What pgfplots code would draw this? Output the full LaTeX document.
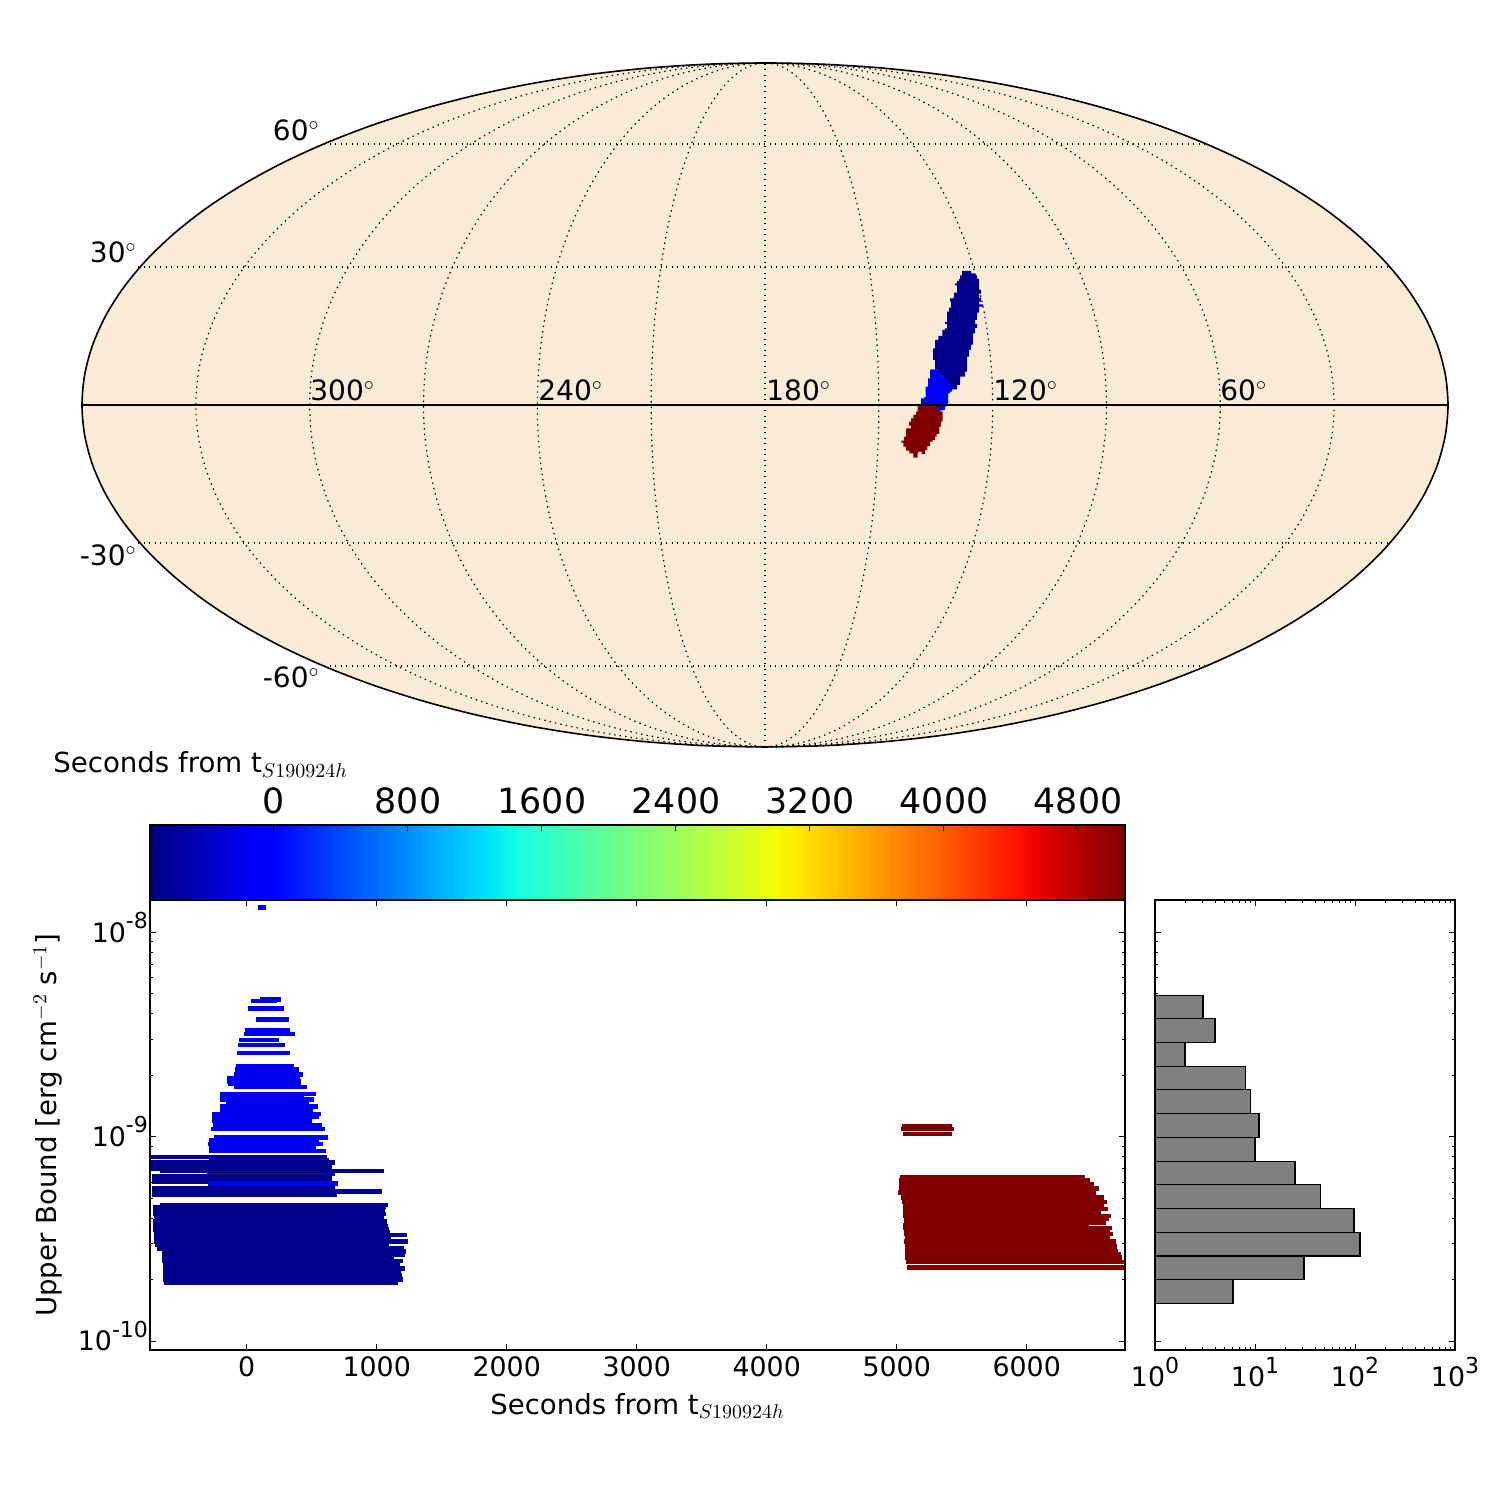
\documentclass[border=0pt]{standalone}
\usepackage{pgfplots}
\pgfplotsset{compat=1.18}
\usepackage{pgfplotstable}
\usepackage{fontspec}
\setmainfont{DejaVu Sans}
\definecolor{mapbg}{HTML}{FAEBD7}
\definecolor{dkblue}{HTML}{00008B}
\definecolor{mdblue}{HTML}{0000F0}
\definecolor{skyblue}{HTML}{0000F8}
\definecolor{dkred}{HTML}{800000}
\newcommand\lblfont{\fontsize{14}{17}\selectfont}
\newcommand\axlblfont{\fontsize{13.8}{17}\selectfont}
\newcommand\tickfont{\fontsize{13.4}{16}\selectfont}
\newcommand\cbfont{\fontsize{17.4}{20}\selectfont}
\newcommand\tp[1]{10\raisebox{.5em}{\fontsize{11}{11}\selectfont #1}}
\newcommand\secs{Seconds from t$_{S190924h}$}
\pgfdeclarehorizontalshading{mpljet}{100bp}{rgb(0bp)=(0,0,.5); rgb(25bp)=(0,0,.5); rgb(30.5bp)=(0,0,1); rgb(31.25bp)=(0,0,1); rgb(42bp)=(0,.86,1); rgb(42.5bp)=(0,.9,.968); rgb(43.75bp)=(.081,1,.887); rgb(57bp)=(.935,1,.032); rgb(57.5bp)=(.968,.963,0); rgb(58bp)=(1,.926,0); rgb(69.5bp)=(1,.074,0); rgb(70.5bp)=(.909,0,0); rgb(75bp)=(.5,0,0); rgb(100bp)=(.5,0,0)}

% unit ellipse for the Mollweide frame and meridians
\pgfplotstableread{
c s
0 -1
.0872 -.9962
.1736 -.9848
.2588 -.9659
.3420 -.9397
.4226 -.9063
.5000 -.8660
.5736 -.8192
.6428 -.7660
.7071 -.7071
.7660 -.6428
.8192 -.5736
.8660 -.5000
.9063 -.4226
.9397 -.3420
.9659 -.2588
.9848 -.1736
.9962 -.0872
1 0
.9962 .0872
.9848 .1736
.9659 .2588
.9397 .3420
.9063 .4226
.8660 .5000
.8192 .5736
.7660 .6428
.7071 .7071
.6428 .7660
.5736 .8192
.5000 .8660
.4226 .9063
.3420 .9397
.2588 .9659
.1736 .9848
.0872 .9962
0 1
-.0872 .9962
-.1736 .9848
-.2588 .9659
-.3420 .9397
-.4226 .9063
-.5000 .8660
-.5736 .8192
-.6428 .7660
-.7071 .7071
-.7660 .6428
-.8192 .5736
-.8660 .5000
-.9063 .4226
-.9397 .3420
-.9659 .2588
-.9848 .1736
-.9962 .0872
-1 0
-.9962 -.0872
-.9848 -.1736
-.9659 -.2588
-.9397 -.3420
-.9063 -.4226
-.8660 -.5000
-.8192 -.5736
-.7660 -.6428
-.7071 -.7071
-.6428 -.7660
-.5736 -.8192
-.5000 -.8660
-.4226 -.9063
-.3420 -.9397
-.2588 -.9659
-.1736 -.9848
-.0872 -.9962
0 -1
}\ell

% sky regions
\pgfplotstableread{
x y
246 33
273 33
273 40
285 40
285 46
291 46
291 57
297 57
297 90
303 90
303 101
297 101
297 113
303 113
303 125
297 125
297 133
309 133
309 140
297 140
297 158
291 158
291 180
285 180
285 192
291 192
291 204
285 204
285 220
279 220
279 254
273 254
273 270
267 270
267 290
261 290
261 335
255 335
255 350
240 350
240 375
231 375
231 388
219 388
213 380
207 372
200 365
192 355
183 345
175 335
172 328
165 320
165 300
159 300
159 287
159 272
153 272
159 265
165 255
165 240
171 240
175 228
187 225
187 210
195 205
201 192
195 186
201 180
201 155
207 150
207 143
213 125
210 115
219 113
222 98
231 85
231 76
225 70
231 63
237 57
240 46
246 40
}\skydark
\pgfplotstableread{
x y
155 328
172 328
175 335
183 345
192 355
200 365
207 372
213 380
222 385
216 395
210 400
204 408
204 425
210 425
204 432
198 440
195 450
187 452
178 460
172 450
160 437
150 432
123 432
123 415
132 412
137 395
137 380
144 375
144 355
150 350
150 330
}\skymid
\pgfplotstableread{
x y
123 432
150 432
160 437
172 450
180 455
188 455
188 485
183 500
178 510
178 522
170 530
165 540
158 545
150 558
142 570
135 582
125 575
115 580
113 593
102 593
100 580
88 572
78 560
70 548
64 542
72 530
78 518
78 505
93 497
87 485
93 475
100 465
108 455
113 440
}\skyred

% upper-bound rows: start, stop (s), flux
\pgfplotstableread{
t1 t2 f
-290 633 7.71e-10
-305 679 6.56e-10
}\blueunder
\pgfplotstableread{
t1 t2 f
-736 618 7.95e-10
-736 679 7.46e-10
-736 653 7.26e-10
-736 653 7.05e-10
-736 641 6.94e-10
-667 1056 6.79e-10
-728 653 6.37e-10
-728 653 6.18e-10
-728 653 6.02e-10
-728 679 5.58e-10
-728 1041 5.38e-10
-728 695 5.18e-10
-667 1087 4.64e-10
-721 1075 4.52e-10
-721 1064 4.41e-10
-721 1066 4.29e-10
-721 1071 4.18e-10
-713 1056 3.99e-10
-721 1079 3.86e-10
-721 1080 3.76e-10
-721 1087 3.66e-10
-721 1094 3.52e-10
-713 1102 3.40e-10
-713 1233 3.30e-10
-713 1110 3.18e-10
-713 1241 3.08e-10
-705 1094 2.95e-10
-690 1210 2.84e-10
-652 1225 2.74e-10
-652 1218 2.65e-10
-652 1133 2.57e-10
-652 1202 2.46e-10
-644 1179 2.37e-10
-644 1218 2.27e-10
-644 1187 2.17e-10
-644 1195 2.09e-10
-644 1202 2.00e-10
-636 1164 1.93e-10
}\darkrows
\pgfplotstableread{
t1 t2 f
87 148 1.32e-8
102 264 4.70e-9
33 233 4.61e-9
10 287 4.23e-9
71 325 3.74e-9
-13 333 3.32e-9
-21 371 3.18e-9
-59 248 2.97e-9
-67 295 2.81e-9
-75 333 2.57e-9
-82 364 2.20e-9
-90 402 2.14e-9
-98 433 2.01e-9
-152 410 1.93e-9
-152 418 1.86e-9
-144 418 1.82e-9
-98 464 1.755e-9
-205 533 1.62e-9
-205 441 1.59e-9
-205 518 1.516e-9
-159 479 1.444e-9
-205 548 1.401e-9
-205 510 1.349e-9
-267 571 1.290e-9
-267 556 1.252e-9
-267 502 1.196e-9
-259 579 1.139e-9
-275 602 1.089e-9
-252 625 9.88e-10
-290 556 9.62e-10
-298 587 9.20e-10
-290 533 8.86e-10
-290 610 8.50e-10
-298 702 5.91e-10
}\bluerows
\pgfplotstableread{
t1 t2 f
5041 5425 1.127e-9
5033 5441 1.093e-9
5048 5425 1.030e-9
5025 6448 6.30e-10
5018 6487 6.09e-10
5018 6518 5.86e-10
5018 6556 5.58e-10
5010 6533 5.32e-10
5033 6595 5.04e-10
5041 6618 4.80e-10
5048 6595 4.57e-10
5048 6625 4.42e-10
5048 6571 4.24e-10
5048 6648 4.09e-10
5056 6633 3.95e-10
5056 6610 3.79e-10
5048 6479 3.68e-10
5048 6656 3.57e-10
5056 6641 3.45e-10
5056 6664 3.34e-10
5064 6641 3.24e-10
5056 6687 3.08e-10
5064 6679 3.00e-10
5064 6695 2.91e-10
5064 6697 2.84e-10
5064 6702 2.76e-10
5064 6725 2.66e-10
5064 6733 2.56e-10
5072 6756 2.44e-10
5079 6748 2.29e-10
}\redrows

\pgfplotsset{
  rows/.style={draw=none, forget plot,
    error bars/.cd, x dir=plus, x explicit, error mark=none,
    error bar style={line width=2.3pt, color=#1}},
  histbar/.style={fill=gray, draw=black, line width=.8pt, mark=none},
  classic/.style={
    scale only axis, anchor=south west, clip=true,
    tick align=inside, major tick length=3pt, minor tick length=1.5pt,
    tick style={black, line width=.45pt},
    axis line style={line width=.75pt},
    tick label style={font=\tickfont}},
  fluxy/.style={
    ymin=9.04e-11, ymax=1.44e-8,
    ytick={1e-10,1e-9,1e-8},
    minor ytick={2e-10,3e-10,4e-10,5e-10,6e-10,7e-10,8e-10,9e-10,2e-9,3e-9,4e-9,5e-9,6e-9,7e-9,8e-9,9e-9}},
}
\tikzset{gridl/.style={black, line width=.6pt, dash pattern=on .7pt off 2.05pt}}

\begin{document}
\begin{tikzpicture}[x=1pt,y=1pt]
\useasboundingbox (0,0) rectangle (750,750);

% ---------- sky map ----------
\begin{axis}[at={(41pt,376.5pt)}, anchor=south west, scale only axis,
  width=683pt, height=342pt, hide axis, clip=false,
  xmin=-683, xmax=683, ymin=-342, ymax=342]
\addplot[smooth, fill=mapbg, draw=none] table[x expr=683*\thisrow{c}, y expr=342*\thisrow{s}] {\ell} -- cycle;
\pgfplotsinvokeforeach{0.16667,0.33333,0.5,0.66667,0.83333}{
  \addplot[smooth, gridl] table[x expr=683*#1*\thisrow{c}, y expr=342*\thisrow{s}] {\ell};
}
\addplot[gridl] coordinates {(0,-342) (0,342)};
\addplot[gridl] coordinates {(-627,138) (627,138)};
\addplot[gridl] coordinates {(-627,-138) (627,-138)};
\addplot[gridl] coordinates {(-441,261) (441,261)};
\addplot[gridl] coordinates {(-441,-261) (441,-261)};
\addplot[const plot, fill=dkblue, draw=none] table[x expr=115+\thisrow{x}/3, y expr=145-\thisrow{y}/3] {\skydark};
\addplot[const plot, fill=skyblue, draw=none] table[x expr=115+\thisrow{x}/3, y expr=145-\thisrow{y}/3] {\skymid};
\addplot[const plot, fill=dkred, draw=none] table[x expr=115+\thisrow{x}/3, y expr=145-\thisrow{y}/3] {\skyred};
\addplot[black, line width=.9pt] coordinates {(-683,0) (683,0)};
\addplot[smooth, black, line width=.8pt] table[x expr=683*\thisrow{c}, y expr=342*\thisrow{s}] {\ell} -- cycle;
\foreach \lx/\lab in {-455/300,-227/240,1/180,228/120,455/60}{
  \edef\tmp{\noexpand\node[anchor=base west, inner sep=0pt, font=\noexpand\lblfont] at (axis cs:\lx,4) {\lab$^{\noexpand\circ}$};}\tmp
}
\node[anchor=base east, inner sep=0pt, font=\lblfont] at (axis cs:-445,264) {60$^{\circ}$};
\node[anchor=base east, inner sep=0pt, font=\lblfont] at (axis cs:-628,142) {30$^{\circ}$};
\node[anchor=base east, inner sep=0pt, font=\lblfont] at (axis cs:-628,-161) {-30$^{\circ}$};
\node[anchor=base east, inner sep=0pt, font=\lblfont] at (axis cs:-445,-283) {-60$^{\circ}$};
\end{axis}

% ---------- colour bar ----------
\begin{axis}[classic, at={(75pt,300pt)}, width=487.5pt, height=37.5pt,
  xmin=-734, xmax=5086, ymin=0, ymax=1, axis on top,
  xtick={0,800,1600,2400,3200,4000,4800},
  xticklabels={0,800,1600,2400,3200,4000,4800},
  xtick pos=top, xticklabel pos=top, ytick=\empty,
  x tick label style={font=\cbfont, yshift=2pt, xshift=.5pt}]
\shade[shading=mpljet] (axis cs:-734,0) rectangle (axis cs:5086,1);
\end{axis}
\node[anchor=base west, inner sep=0pt, font=\axlblfont] at (26.5,363.5) {\secs};

% ---------- upper bounds vs time ----------
\begin{axis}[classic, ymode=log, fluxy, at={(75pt,75pt)}, width=487.5pt, height=225pt,
  xmin=-744, xmax=6756,
  xtick={0,1000,2000,3000,4000,5000,6000},
  xticklabels={0,1000,2000,3000,4000,5000,6000},
  yticklabels={\tp{-10},\tp{-9},\tp{-8}},
  y tick label style={yshift=2.5pt, xshift=2.5pt},
  xtick pos=both, ytick pos=both, xticklabel pos=bottom, yticklabel pos=left,
  xlabel={\secs}, ylabel={Upper Bound [erg cm$^{-2}$ s$^{-1}$]},
  every axis x label/.style={at={(axis description cs:.5,0)}, anchor=base, yshift=-32pt, font=\axlblfont},
  every axis y label/.style={at={(axis description cs:0,.5)}, anchor=center, rotate=90, yshift=51pt, font=\axlblfont}]
\addplot[rows=mdblue] table[x=t1, y=f, x error expr=\thisrow{t2}-\thisrow{t1}] {\blueunder};
\addplot[rows=dkblue] table[x=t1, y=f, x error expr=\thisrow{t2}-\thisrow{t1}] {\darkrows};
\addplot[rows=mdblue] table[x=t1, y=f, x error expr=\thisrow{t2}-\thisrow{t1}] {\bluerows};
\addplot[rows=dkred] table[x=t1, y=f, x error expr=\thisrow{t2}-\thisrow{t1}] {\redrows};
\end{axis}

% ---------- histogram ----------
\begin{axis}[classic, ymode=log, xmode=log, fluxy, at={(577.5pt,75pt)}, width=150pt, height=225pt,
  xmin=1, xmax=1000,
  xtick={1,10,100,1000}, xticklabels={\tp{0},\tp{1},\tp{2},\tp{3}},
  yticklabels={},
  xtick pos=both, ytick pos=both, xticklabel pos=bottom]
\addplot[histbar] coordinates {(1,4.91e-9) (3,4.91e-9) (3,3.79e-9) (1,3.79e-9)} -- cycle;
\addplot[histbar] coordinates {(1,3.79e-9) (4,3.79e-9) (4,2.89e-9) (1,2.89e-9)} -- cycle;
\addplot[histbar] coordinates {(1,2.89e-9) (2,2.89e-9) (2,2.21e-9) (1,2.21e-9)} -- cycle;
\addplot[histbar] coordinates {(1,2.21e-9) (8,2.21e-9) (8,1.70e-9) (1,1.70e-9)} -- cycle;
\addplot[histbar] coordinates {(1,1.70e-9) (9,1.70e-9) (9,1.30e-9) (1,1.30e-9)} -- cycle;
\addplot[histbar] coordinates {(1,1.30e-9) (11,1.30e-9) (11,9.92e-10) (1,9.92e-10)} -- cycle;
\addplot[histbar] coordinates {(1,9.92e-10) (10,9.92e-10) (10,7.57e-10) (1,7.57e-10)} -- cycle;
\addplot[histbar] coordinates {(1,7.57e-10) (25,7.57e-10) (25,5.84e-10) (1,5.84e-10)} -- cycle;
\addplot[histbar] coordinates {(1,5.84e-10) (45,5.84e-10) (45,4.45e-10) (1,4.45e-10)} -- cycle;
\addplot[histbar] coordinates {(1,4.45e-10) (98,4.45e-10) (98,3.40e-10) (1,3.40e-10)} -- cycle;
\addplot[histbar] coordinates {(1,3.40e-10) (112,3.40e-10) (112,2.61e-10) (1,2.61e-10)} -- cycle;
\addplot[histbar] coordinates {(1,2.61e-10) (31,2.61e-10) (31,2.00e-10) (1,2.00e-10)} -- cycle;
\addplot[histbar] coordinates {(1,2.00e-10) (6,2.00e-10) (6,1.53e-10) (1,1.53e-10)} -- cycle;
\end{axis}
\end{tikzpicture}
\end{document}
